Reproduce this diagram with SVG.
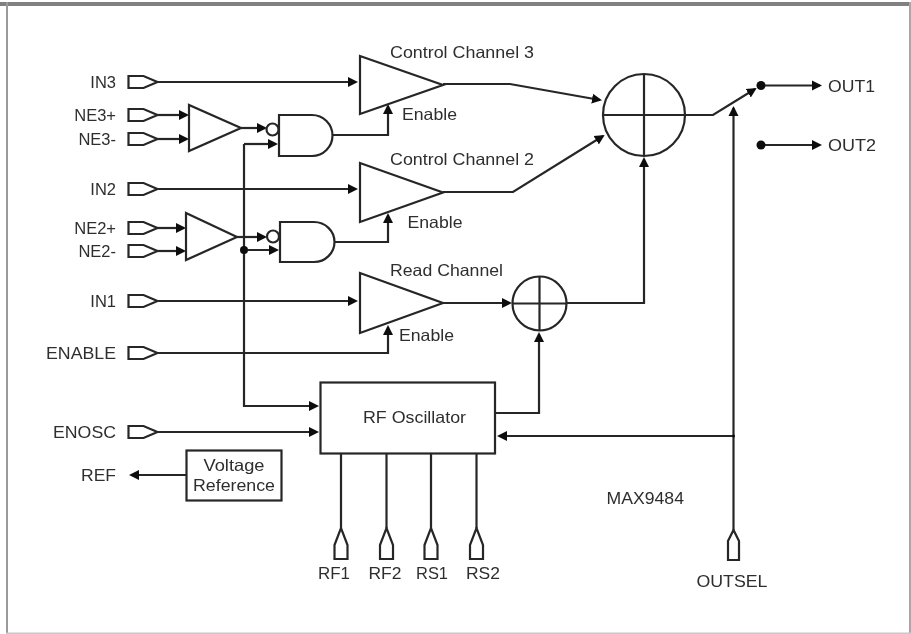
<svg xmlns="http://www.w3.org/2000/svg" width="911" height="634" viewBox="0 0 911 634">
<style>
text{font-family:"Liberation Sans",Arial,sans-serif;font-size:16.5px;fill:#2e2e2e}
.r{text-anchor:end}
.m{text-anchor:middle}
.s{fill:#fff;stroke:#262626;stroke-width:2.200;stroke-linejoin:miter}
.n{fill:none;stroke:#262626;stroke-width:2.200}
#wires path{fill:none;stroke:#262626;stroke-width:2.200;marker-end:url(#a)}
#wires path.p{marker-end:none}
.d{fill:#111;stroke:none}
</style>
<defs>
<marker id="a" markerUnits="userSpaceOnUse" markerWidth="12" markerHeight="12" refX="8" refY="5.500" orient="auto"><path d="M0,0.500L10,5.500L0,10.500z" fill="#111"/></marker>
<path id="pin" d="M0,-6H15L29,0L15,6H0z" class="s"/>
<path id="vpin" d="M-6.500,31V17L0,0L6.500,17V31z" class="s"/>
<filter id="b" x="0" y="0" width="100%" height="100%"><feGaussianBlur stdDeviation="0.45"/></filter>
</defs>
<rect width="911" height="634" fill="#fff"/>
<g id="frame"><rect x="0" y="2" width="911" height="4" fill="#808080"/><rect x="6" y="2" width="2" height="632" fill="#9a9a9a"/><rect x="909" y="2" width="2" height="632" fill="#a8a8a8"/><rect x="6" y="632.500" width="905" height="1.500" fill="#c8c8c8"/></g>
<g filter="url(#b)">
<g id="wires">
<path d="M157,82H356"/>
<path d="M157,115H187"/>
<path d="M157,139H187"/>
<path d="M157,189H356"/>
<path d="M157,228H184"/>
<path d="M157,251H184"/>
<path d="M157,301H356"/>
<path d="M241,128H265"/>
<path d="M237,237H265"/>
<path d="M244,144H276"/>
<path d="M244,250H277"/>
<path d="M244,144V406H317"/>
<path d="M332,135H388V106"/>
<path d="M335,242H388V215"/>
<path d="M157,353H388V327"/>
<path d="M443,84H510L600,100"/>
<path d="M443,192H513L603,136"/>
<path d="M443,303H510"/>
<path d="M567,303H644V159"/>
<path d="M495,413H539V334"/>
<path d="M157,432H317"/>
<path d="M733.500,436H499"/>
<path d="M733.500,530V108"/>
<path d="M685,115H713L755,89"/>
<path d="M761,85.500H820"/>
<path d="M761,145H820"/>
<path d="M187,475H131"/>
<path class="p" d="M341,453V528"/>
<path class="p" d="M386.500,453V528"/>
<path class="p" d="M431,453V528"/>
<path class="p" d="M476.500,453V528"/>
</g>
<g id="junctions">
<circle class="d" cx="244" cy="250" r="4"/>
<circle class="d" cx="733.500" cy="436" r="1.500"/>
<circle class="d" cx="761" cy="85.500" r="4.500"/>
<circle class="d" cx="761" cy="145" r="4.500"/>
</g>
<g id="pin-in3"><use href="#pin" x="128.500" y="82"/><text class="r" x="116" y="88">IN3</text></g>
<g id="pin-ne3p"><use href="#pin" x="128.500" y="115"/><text class="r" x="116" y="121">NE3+</text></g>
<g id="pin-ne3m"><use href="#pin" x="128.500" y="139"/><text class="r" x="116" y="145">NE3-</text></g>
<g id="pin-in2"><use href="#pin" x="128.500" y="189"/><text class="r" x="116" y="195">IN2</text></g>
<g id="pin-ne2p"><use href="#pin" x="128.500" y="228"/><text class="r" x="116" y="234">NE2+</text></g>
<g id="pin-ne2m"><use href="#pin" x="128.500" y="251"/><text class="r" x="116" y="257">NE2-</text></g>
<g id="pin-in1"><use href="#pin" x="128.500" y="301"/><text class="r" x="116" y="307">IN1</text></g>
<g id="pin-enable"><use href="#pin" x="128.500" y="353"/><text class="r" x="116" y="359" textLength="70" lengthAdjust="spacingAndGlyphs">ENABLE</text></g>
<g id="pin-enosc"><use href="#pin" x="128.500" y="432"/><text class="r" x="116" y="438" textLength="63" lengthAdjust="spacingAndGlyphs">ENOSC</text></g>
<g id="pin-ref"><text class="r" x="116" y="481" textLength="35" lengthAdjust="spacingAndGlyphs">REF</text></g>
<g id="comp-ne3"><path class="s" d="M189,105V151L241,128z"/></g>
<g id="comp-ne2"><path class="s" d="M186,213V260L237,237z"/></g>
<g id="and-3"><path class="s" d="M279,115H312A20.500,20.500 0 0 1 312,156H279z"/><circle class="s" cx="272.500" cy="129.500" r="6"/></g>
<g id="and-2"><path class="s" d="M280,222H314A20.500,20 0 0 1 314,262H280z"/><circle class="s" cx="273" cy="236.500" r="6"/></g>
<g id="amp-control3"><path class="s" d="M360,56V114L443,85z"/><text x="390" y="58" textLength="144" lengthAdjust="spacingAndGlyphs">Control Channel 3</text><text x="402" y="120" textLength="55" lengthAdjust="spacingAndGlyphs">Enable</text></g>
<g id="amp-control2"><path class="s" d="M360,163V222L443,192.500z"/><text x="390" y="165" textLength="144" lengthAdjust="spacingAndGlyphs">Control Channel 2</text><text x="407.500" y="228" textLength="55" lengthAdjust="spacingAndGlyphs">Enable</text></g>
<g id="amp-read"><path class="s" d="M360,273V333L443,303z"/><text x="390" y="276" textLength="113" lengthAdjust="spacingAndGlyphs">Read Channel</text><text x="399" y="341" textLength="55" lengthAdjust="spacingAndGlyphs">Enable</text></g>
<g id="sum-main"><circle class="n" cx="644" cy="115" r="41"/><path class="n" d="M603,115H685M644,74V156"/></g>
<g id="sum-read"><circle class="n" cx="539.500" cy="303.500" r="27"/><path class="n" d="M512.500,303.500H566.500M539.500,276.500V330.500"/></g>
<g id="rf-oscillator"><rect class="s" x="320.500" y="382.500" width="174.500" height="71"/><text x="363" y="423" textLength="103" lengthAdjust="spacingAndGlyphs">RF Oscillator</text></g>
<g id="voltage-reference"><rect class="s" x="186.500" y="450.500" width="95" height="50"/><text class="m" x="234" y="471" textLength="61" lengthAdjust="spacingAndGlyphs">Voltage</text><text class="m" x="234" y="491" textLength="82" lengthAdjust="spacingAndGlyphs">Reference</text></g>
<g id="pin-rf1"><use href="#vpin" x="341" y="528"/><text class="m" x="334" y="579" textLength="32" lengthAdjust="spacingAndGlyphs">RF1</text></g>
<g id="pin-rf2"><use href="#vpin" x="386.500" y="528"/><text class="m" x="385" y="579" textLength="33" lengthAdjust="spacingAndGlyphs">RF2</text></g>
<g id="pin-rs1"><use href="#vpin" x="431" y="528"/><text class="m" x="432" y="579" textLength="32" lengthAdjust="spacingAndGlyphs">RS1</text></g>
<g id="pin-rs2"><use href="#vpin" x="476.500" y="528"/><text class="m" x="483" y="579" textLength="34" lengthAdjust="spacingAndGlyphs">RS2</text></g>
<g id="pin-outsel"><path class="s" d="M728,560V541L733.500,530L739,541V560z"/><text class="m" x="732" y="587" textLength="71" lengthAdjust="spacingAndGlyphs">OUTSEL</text></g>
<g id="out1"><text x="828" y="91.500" textLength="47" lengthAdjust="spacingAndGlyphs">OUT1</text></g>
<g id="out2"><text x="828" y="151" textLength="48" lengthAdjust="spacingAndGlyphs">OUT2</text></g>
<g id="part-label"><text x="606.500" y="504" textLength="77.500" lengthAdjust="spacingAndGlyphs">MAX9484</text></g>
</g>
</svg>
